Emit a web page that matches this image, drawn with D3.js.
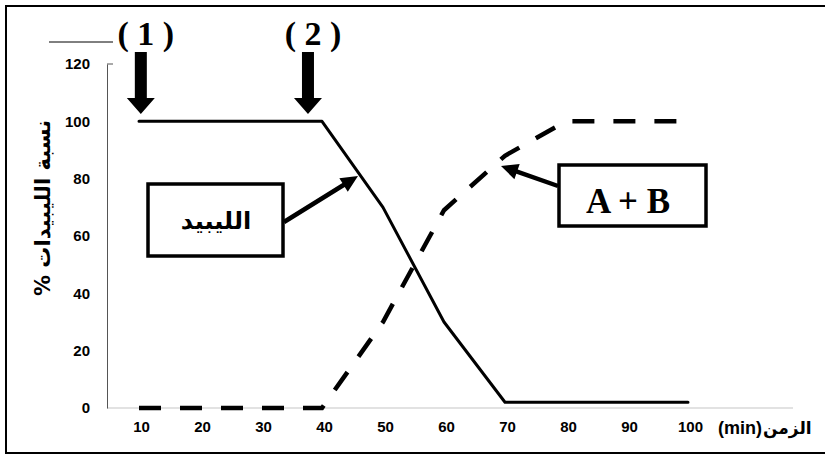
<!DOCTYPE html>
<html>
<head>
<meta charset="utf-8">
<script src="https://cdn.jsdelivr.net/npm/d3@7"></script>
<style>
  html, body { margin: 0; padding: 0; background: #fff; }
  svg { display: block; }
</style>
</head>
<body>
<svg id="chart" width="825" height="455"></svg>
<script>
// ---- data ----
const times = [10, 20, 30, 40, 50, 60, 70, 80, 90, 100];
const lipidValues = [100, 100, 100, 100, 70, 30, 2, 2, 2, 2];
const productValues = [0, 0, 0, 0, 30, 69, 88, 100, 100, 100];
const yTicks = [0, 20, 40, 60, 80, 100, 120];
const xTickLabels = times;
const yTitle = "% نسبة الليبيدات";
const xTitleUnit = "(min)";
const xTitleWord = "الزمن";
const lipidLabel = "الليبيد";
const productLabel = "A + B";
const markerLabels = ["( 1 )", "( 2 )"];
const markerTimes = [10.3, 37.7];

// ---- setup ----
const svg = d3.select("#chart");
const x = d3.scaleLinear().domain([10, 100]).range([139, 688]);
const y = d3.scaleLinear().domain([0, 120]).range([408, 64]);
const sansBold = "'Liberation Sans', Arial, sans-serif";
const serifBold = "'Liberation Serif', 'Times New Roman', serif";
const arabic = "'DejaVu Sans', sans-serif";

// outer frame (left, top, bottom)
svg.append("path")
  .attr("d", "M830,6 H6 V453 H830")
  .attr("fill", "none").attr("stroke", "#000").attr("stroke-width", 2);

// x axis line (light gray)
svg.append("line")
  .attr("x1", 107).attr("x2", 793).attr("y1", y(0)).attr("y2", y(0))
  .attr("stroke", "#d9d9d9").attr("stroke-width", 1.5);

// y axis
const yAxis = svg.append("g")
  .attr("transform", "translate(107,0)")
  .call(d3.axisLeft(y).tickValues(yTicks).tickSize(0).tickSizeOuter(0).tickPadding(17));
yAxis.select(".domain").attr("stroke", "#555").attr("stroke-width", 1);
yAxis.selectAll("text")
  .attr("font-family", sansBold).attr("font-weight", "bold")
  .attr("font-size", 15).attr("fill", "#000");
svg.append("line")
  .attr("x1", 107).attr("x2", 113).attr("y1", y(120)).attr("y2", y(120))
  .attr("stroke", "#555").attr("stroke-width", 1);

// x axis labels
const xAxis = svg.append("g")
  .attr("transform", `translate(0,${y(0)})`)
  .call(d3.axisBottom(x).tickValues(xTickLabels).tickSize(0).tickPadding(13));
xAxis.select(".domain").remove();
xAxis.selectAll("text")
  .attr("font-family", sansBold).attr("font-weight", "bold")
  .attr("font-size", 15).attr("fill", "#000")
  .attr("dx", 2);

// axis titles
svg.append("text")
  .attr("x", 762).attr("y", 434)
  .attr("text-anchor", "end")
  .attr("font-family", sansBold).attr("font-weight", "bold").attr("font-size", 18)
  .text(xTitleUnit);
svg.append("text")
  .attr("x", 763).attr("y", 434)
  .attr("text-anchor", "start")
  .attr("font-family", arabic).attr("font-weight", "bold").attr("font-size", 17)
  .text(xTitleWord);
svg.append("text")
  .attr("transform", "translate(50,208) rotate(-90)")
  .attr("text-anchor", "middle")
  .attr("font-family", arabic).attr("font-weight", "bold").attr("font-size", 21)
  .text(yTitle);

// series
const lineGen = d3.line().x((d, i) => x(times[i])).y(d => y(d));
svg.append("path")
  .datum(lipidValues)
  .attr("d", lineGen)
  .attr("fill", "none").attr("stroke", "#000").attr("stroke-width", 3)
  .attr("stroke-linejoin", "round").attr("stroke-linecap", "round");
svg.append("path")
  .datum(productValues)
  .attr("d", lineGen)
  .attr("fill", "none").attr("stroke", "#000").attr("stroke-width", 4.5)
  .attr("stroke-dasharray", "22,19")
  .attr("stroke-linecap", "butt");

// arrow helper: polygon from (x1,y1) to tip (x2,y2)
function arrow(x1, y1, x2, y2, w, headLen, headW) {
  const dx = x2 - x1, dy = y2 - y1, L = Math.hypot(dx, dy);
  const ux = dx / L, uy = dy / L, nx = -uy, ny = ux;
  const bx = x2 - ux * headLen, by = y2 - uy * headLen;
  const pts = [
    [x1 + nx * w / 2, y1 + ny * w / 2],
    [bx + nx * w / 2, by + ny * w / 2],
    [bx + nx * headW / 2, by + ny * headW / 2],
    [x2, y2],
    [bx - nx * headW / 2, by - ny * headW / 2],
    [bx - nx * w / 2, by - ny * w / 2],
    [x1 - nx * w / 2, y1 - ny * w / 2]
  ];
  svg.append("polygon").attr("points", pts.map(p => p.join(",")).join(" ")).attr("fill", "#000");
}

// marker arrows and labels at top
markerTimes.forEach((t, i) => {
  const cx = x(t);
  arrow(cx, 52, cx, 114, 12, 16, 28);
  svg.append("text")
    .attr("x", cx + 5).attr("y", 45)
    .attr("text-anchor", "middle")
    .attr("font-family", serifBold).attr("font-weight", "bold").attr("font-size", 34)
    .attr("xml:space", "preserve")
    .text(markerLabels[i]);
});
svg.append("line")
  .attr("x1", 49).attr("x2", 113).attr("y1", 42).attr("y2", 42)
  .attr("stroke", "#000").attr("stroke-width", 1);

// lipid label box
svg.append("rect")
  .attr("x", 148).attr("y", 184).attr("width", 135).attr("height", 72)
  .attr("fill", "#fff").attr("stroke", "#000").attr("stroke-width", 3.5);
svg.append("text")
  .attr("x", 216).attr("y", 229)
  .attr("text-anchor", "middle")
  .attr("font-family", arabic).attr("font-weight", "bold").attr("font-size", 24)
  .text(lipidLabel);
arrow(284, 222, 358, 176, 4.5, 17, 16);

// product label box
svg.append("rect")
  .attr("x", 559).attr("y", 165).attr("width", 147).attr("height", 61)
  .attr("fill", "#fff").attr("stroke", "#000").attr("stroke-width", 3.5);
svg.append("text")
  .attr("x", 628).attr("y", 213)
  .attr("text-anchor", "middle")
  .attr("font-family", serifBold).attr("font-weight", "bold").attr("font-size", 35)
  .text(productLabel);
arrow(558, 186, 501, 166, 4.5, 17, 16);
</script>
</body>
</html>
